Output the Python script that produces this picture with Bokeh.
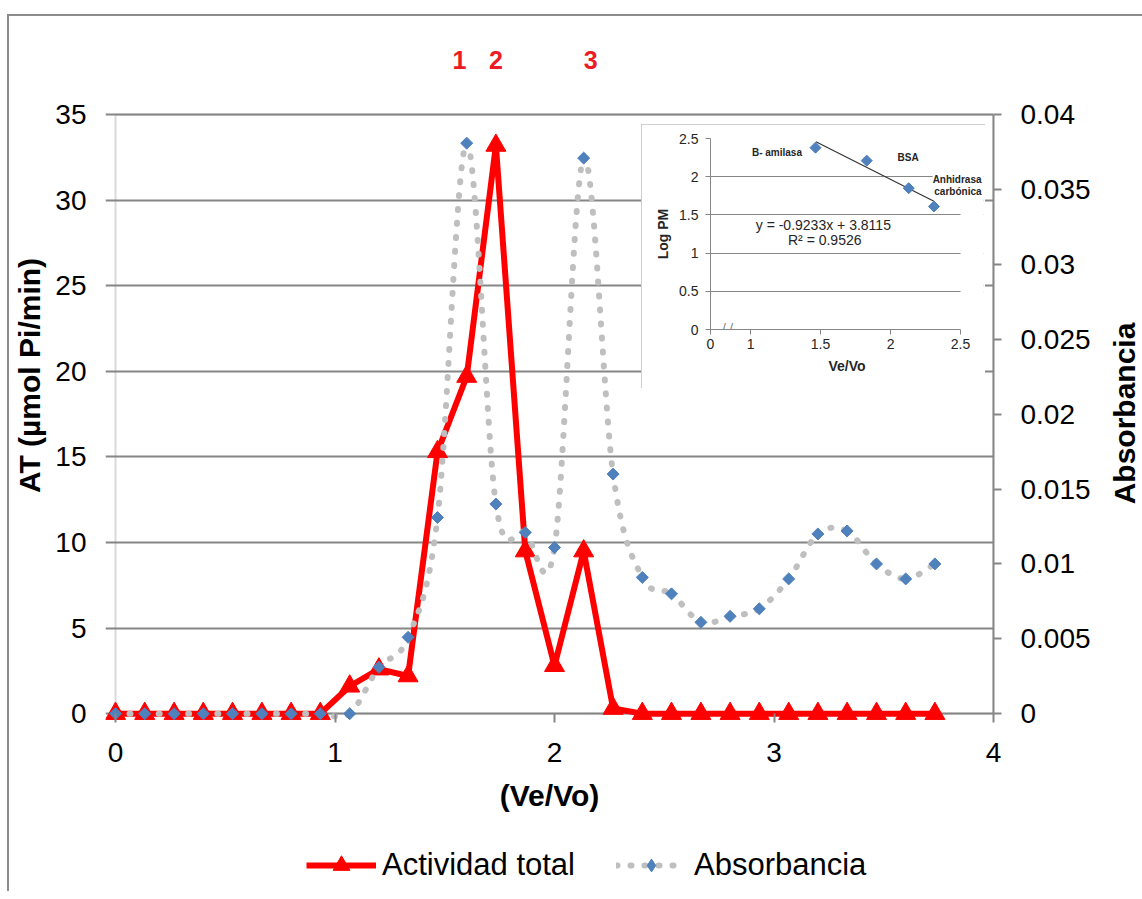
import math
from bokeh.plotting import figure
from bokeh.models import (Range1d, LinearAxis, SingleIntervalTicker, FixedTicker,
                          NumeralTickFormatter, Legend, LegendItem, Label, BoxAnnotation)
from bokeh.embed import file_html
from bokeh.resources import INLINE

# ---------------- data ----------------
ve_vo = [0, 0.133, 0.267, 0.4, 0.533, 0.667, 0.8, 0.933, 1.067, 1.2, 1.333, 1.467,
         1.6, 1.733, 1.867, 2.0, 2.133, 2.267, 2.4, 2.533, 2.667, 2.8, 2.933, 3.067,
         3.2, 3.333, 3.467, 3.6, 3.733]
actividad_total = [0, 0, 0, 0, 0, 0, 0, 0, 1.6, 2.6, 2.2, 15.3, 19.7, 33.2, 9.5,
                   2.8, 9.5, 0.3, 0, 0, 0, 0, 0, 0, 0, 0, 0, 0, 0]
absorbancia = [0, 0, 0, 0, 0, 0, 0, 0, 0, 0.0031, 0.0051, 0.0131, 0.0381, 0.0140,
               0.0121, 0.0111, 0.0371, 0.0160, 0.0091, 0.0080, 0.0061, 0.0065,
               0.0070, 0.0090, 0.0120, 0.0122, 0.0100, 0.0090, 0.0100]
series_names = ["Actividad total", "Absorbancia"]
axis_titles = ["(Ve/Vo)", "AT (µmol Pi/min)", "Absorbancia"]

peak_names = ["1", "2", "3"]
peak_x = [1.567, 1.733, 2.165]

# inset (calibration curve)
std_names = ["B- amilasa", "BSA", "Anhidrasa carbónica"]
std_ve_vo = [1.464, 1.83, 2.13, 2.31]
std_log_pm = [2.38, 2.21, 1.85, 1.61]
fit_slope = -0.9233
fit_intercept = 3.8115
fit_r2 = 0.9526
fit_x = [1.467, 2.31]
inset_x_ticks = [0.714, 1, 1.5, 2, 2.5]

AT_MAX = 35
ABS_MAX = 0.04

FONT = "Liberation Sans"
GRID = "#868686"
RED = "#FF0000"
BLUE = "#4F81BD"
DOTS = "#BFBFBF"

# ---------------- main chart ----------------
y_lo, y_hi = -0.4, 39.92
p = figure(width=1142, height=883, x_range=Range1d(-0.0456, 4), y_range=Range1d(y_lo, y_hi),
           output_backend="svg", toolbar_location=None,
           min_border_left=105, min_border_right=149, min_border_top=22, min_border_bottom=171)
p.extra_y_ranges = {"abs": Range1d(y_lo * ABS_MAX / AT_MAX, y_hi * ABS_MAX / AT_MAX)}
p.outline_line_color = None
p.background_fill_color = "white"
p.border_fill_alpha = 0
p.styles = {"position": "absolute", "left": "0px", "top": "8px", "background-color": "white",
            "box-shadow": "inset 7px 6px 0 0 white, inset 9px 8px 0 0 #8c8c8c"}

ytick = SingleIntervalTicker(interval=5)
xax = p.xaxis[0]
yax = p.yaxis[0]
xax.ticker = SingleIntervalTicker(interval=1)
yax.ticker = ytick
p.ygrid.ticker = ytick
p.xgrid.visible = False
p.ygrid.grid_line_color = GRID
p.ygrid.grid_line_width = 2

for ax in (xax, yax):
    ax.major_tick_line_color = GRID
    ax.major_tick_line_width = 2
    ax.minor_tick_line_color = None
    ax.major_label_text_font = FONT
    ax.major_label_text_font_size = "28px"
    ax.major_label_text_color = "black"
    ax.axis_label_text_font = FONT
    ax.axis_label_text_font_size = "30px"
    ax.axis_label_text_font_style = "bold"
    ax.axis_label_text_color = "black"

# x axis sits at the frame bottom; its line is the 0 grid line
xax.axis_line_color = None
xax.bounds = (0, 4)
xax.major_tick_in = 7
xax.major_tick_out = 2
xax.major_label_standoff = 18
xax.axis_label = axis_titles[0]
xax.axis_label_standoff = 14

yax.axis_line_color = None
yax.major_tick_line_color = None
yax.bounds = (0, AT_MAX)
yax.major_label_standoff = 13
yax.axis_label = axis_titles[1]
yax.axis_label_standoff = 6

# plot-area box: left axis line at x=0 (0..35), under the series
p.add_layout(BoxAnnotation(left=0, right=4, bottom=0, top=AT_MAX, fill_alpha=0,
                           line_color=GRID, line_width=2, level="underlay"))

rax = LinearAxis(y_range_name="abs", bounds=(0, ABS_MAX),
                 ticker=SingleIntervalTicker(interval=0.005),
                 formatter=NumeralTickFormatter(format="0.[000]"))
rax.axis_line_color = GRID
rax.axis_line_width = 2
rax.major_tick_line_color = GRID
rax.major_tick_line_width = 2
rax.major_tick_in = 0
rax.major_tick_out = 8
rax.minor_tick_line_color = None
rax.major_label_standoff = 19
rax.major_label_text_font = FONT
rax.major_label_text_font_size = "28px"
rax.major_label_text_color = "black"
p.add_layout(rax, "right")

# Actividad total
p.line(ve_vo, actividad_total, line_color=RED, line_width=6, line_join="round")
p.scatter(ve_vo, actividad_total, marker="triangle", size=20, fill_color=RED, line_color=RED)

# Absorbancia: smoothed dotted curve (Bezier through the points) + diamonds
n = len(ve_vo)
bx0, by0, bx1, by1, bcx0, bcy0, bcx1, bcy1 = ([] for _ in range(8))
for i in range(n - 1):
    a = max(i - 1, 0)
    d = min(i + 2, n - 1)
    bx0.append(ve_vo[i]); by0.append(absorbancia[i])
    bx1.append(ve_vo[i + 1]); by1.append(absorbancia[i + 1])
    bcx0.append(ve_vo[i] + (ve_vo[i + 1] - ve_vo[a]) / 6)
    bcy0.append(absorbancia[i] + (absorbancia[i + 1] - absorbancia[a]) / 6)
    bcx1.append(ve_vo[i + 1] - (ve_vo[d] - ve_vo[i]) / 6)
    bcy1.append(absorbancia[i + 1] - (absorbancia[d] - absorbancia[i]) / 6)
p.bezier(x0=bx0, y0=by0, x1=bx1, y1=by1, cx0=bcx0, cy0=bcy0, cx1=bcx1, cy1=bcy1,
         y_range_name="abs", line_color=DOTS, line_width=6, line_dash="1 13",
         line_cap="round")
p.scatter(ve_vo, absorbancia, y_range_name="abs", marker="square",
          angle=math.pi / 4, size=8.5, fill_color=BLUE, line_color=BLUE)

# peak numbers
for name, xp in zip(peak_names, peak_x):
    p.add_layout(Label(x=xp, y=38.2, text=name, text_align="center", text_baseline="middle",
                       text_font=FONT, text_font_size="25px", text_font_style="bold",
                       text_color="#ED1C24"))

# ---------------- right axis title (small transparent canvas) ----------------
rt = figure(width=40, height=240, x_range=Range1d(0, 1), y_range=Range1d(0, 1),
            output_backend="svg", toolbar_location=None,
            x_axis_location=None, y_axis_location=None,
            min_border_left=0, min_border_right=0, min_border_top=0, min_border_bottom=0)
rt.grid.visible = False
rt.outline_line_color = None
rt.background_fill_alpha = 0
rt.border_fill_alpha = 0
rt.styles = {"position": "absolute", "left": "1104px", "top": "293px"}
rt.add_layout(Label(x=0.5, y=0.5, text=axis_titles[2], angle=math.pi / 2,
                    text_align="center", text_baseline="middle", text_font=FONT,
                    text_font_size="30px", text_font_style="bold", text_color="black"))

# ---------------- legend strip (separate small canvas, data kept out of view) ----------------
lg = figure(width=580, height=52, x_range=Range1d(10, 11), y_range=Range1d(10, 11),
            output_backend="svg", toolbar_location=None,
            x_axis_location=None, y_axis_location=None,
            min_border_left=0, min_border_right=0, min_border_top=0, min_border_bottom=0)
lg.grid.visible = False
lg.outline_line_color = None
lg.background_fill_alpha = 0
lg.border_fill_alpha = 0
lg.styles = {"position": "absolute", "left": "298px", "top": "840px"}
lg_red_line = lg.line(ve_vo, actividad_total, line_color=RED, line_width=6)
lg_red_pts = lg.scatter(ve_vo, actividad_total, marker="triangle",
                        fill_color=RED, line_color=RED)
lg_abs_line = lg.line(ve_vo, absorbancia, line_color=DOTS, line_width=6, line_dash="1 13",
                      line_cap="round")
lg_abs_pts = lg.scatter(ve_vo, absorbancia, marker="diamond",
                        fill_color=BLUE, line_color=BLUE)
leg_kw = dict(orientation="horizontal", glyph_width=70, padding=0, margin=0,
              border_line_color=None, background_fill_alpha=0, label_text_font=FONT,
              label_text_font_size="31px", label_text_color="black")
leg1 = Legend(items=[LegendItem(label=series_names[0], renderers=[lg_red_line, lg_red_pts])],
              location=(8, 6), glyph_height=42, label_standoff=6, **leg_kw)
leg2 = Legend(items=[LegendItem(label=series_names[1], renderers=[lg_abs_line, lg_abs_pts])],
              location=(318, 9), glyph_height=32, label_standoff=8, **leg_kw)
lg.add_layout(leg1, "center")
lg.add_layout(leg2, "center")

# ---------------- inset ----------------
q = figure(width=344, height=264, x_range=Range1d(inset_x_ticks[0], 2.664),
           y_range=Range1d(0, 2.5), output_backend="svg", toolbar_location=None,
           min_border_left=69, min_border_right=2, min_border_top=14, min_border_bottom=59)
q.outline_line_color = None
q.background_fill_color = "white"
q.border_fill_color = "white"
q.styles = {"position": "absolute", "left": "641px", "top": "124px",
            "outline": "1px solid #bfbfbf", "outline-offset": "-1px"}
q.xgrid.visible = False
q.ygrid.grid_line_color = GRID
q.ygrid.grid_line_width = 1
q.xaxis.ticker = FixedTicker(ticks=inset_x_ticks)
q.xaxis.formatter = NumeralTickFormatter(format="0.[0]")
q.xaxis.major_label_overrides = {inset_x_ticks[0]: "0"}
q.xaxis.bounds = (inset_x_ticks[0], 2.5)
q.yaxis.ticker = SingleIntervalTicker(interval=0.5)
q.yaxis.formatter = NumeralTickFormatter(format="0.[0]")
for ax in (q.xaxis[0], q.yaxis[0]):
    ax.axis_line_color = GRID
    ax.major_tick_line_color = GRID
    ax.major_tick_in = 0
    ax.major_tick_out = 5
    ax.minor_tick_line_color = None
    ax.major_label_text_font = FONT
    ax.major_label_text_font_size = "14px"
    ax.major_label_text_color = "#262626"
    ax.axis_label_text_font = FONT
    ax.axis_label_text_font_size = "14px"
    ax.axis_label_text_font_style = "bold"
    ax.axis_label_text_color = "#262626"
q.xaxis.major_label_standoff = 4
q.xaxis.axis_label = "Ve/Vo"
q.xaxis.axis_label_standoff = 6
q.yaxis.major_label_standoff = 7
q.yaxis.axis_label = "Log PM"
q.yaxis.axis_label_standoff = 5

# blank strip right of the plotted x range (room for the labels)
q.add_layout(BoxAnnotation(left=2.5, fill_color="white", fill_alpha=1, line_color=None))

fit_y = [fit_slope * xv + fit_intercept for xv in fit_x]
q.line(fit_x, fit_y, line_color="#333333", line_width=1.2)
q.scatter(std_ve_vo, std_log_pm, marker="square", angle=math.pi / 4, size=7.8,
          fill_color=BLUE, line_color=BLUE)

lab_kw = dict(text_font=FONT, text_font_size="10px", text_font_style="bold",
              text_color="#262626", text_baseline="middle")
q.add_layout(Label(x=1.01, y=2.32, text=std_names[0], text_align="left", **lab_kw))
q.add_layout(Label(x=2.05, y=2.25, text=std_names[1], text_align="left", **lab_kw))
an1, an2 = std_names[2].split(" ")
q.add_layout(Label(x=2.65, y=1.96, text=an1, text_align="right",
                   background_fill_color="white", **lab_kw))
q.add_layout(Label(x=2.65, y=1.81, text=an2, text_align="right", **lab_kw))
eq_kw = dict(text_font=FONT, text_font_size="14px", text_color="#262626",
             text_align="center", text_baseline="middle")
q.add_layout(Label(x=1.52, y=1.37, text=f"y = {fit_slope}x + {fit_intercept}", **eq_kw))
q.add_layout(Label(x=1.53, y=1.165, text=f"R² = {fit_r2}", **eq_kw))
q.add_layout(Label(x=0.836, y=0.02, text="/ /", text_font=FONT, text_font_size="13px",
                   text_color="#7f7f7f", text_align="center", text_baseline="middle"))

with open("out.html", "w") as f:
    f.write(file_html([p, q, lg, rt], INLINE, title="Actividad total y absorbancia"))
